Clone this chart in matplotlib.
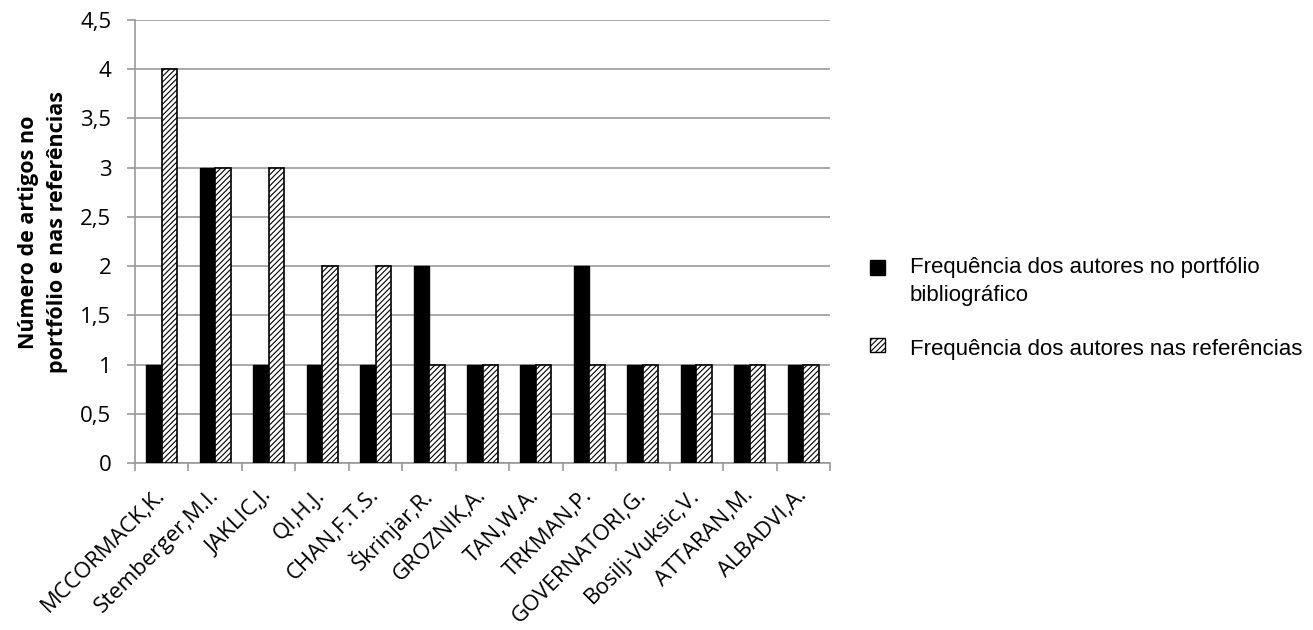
import numpy as np
import matplotlib.pyplot as plt
from matplotlib.patches import Rectangle

autores = ['MCCORMACK,K.', 'Stemberger,M.I.', 'JAKLIC,J.', 'QI,H.J.', 'CHAN,F.T.S.',
           'Škrinjar,R.', 'GROZNIK,A.', 'TAN,W.A.', 'TRKMAN,P.', 'GOVERNATORI,G.',
           'Bosilj-Vuksic,V.', 'ATTARAN,M.', 'ALBADVI,A.']
portfolio = [1, 3, 1, 1, 1, 2, 1, 1, 2, 1, 1, 1, 1]
referencias = [4, 3, 3, 2, 2, 1, 1, 1, 1, 1, 1, 1, 1]
yticks = [0, 0.5, 1, 1.5, 2, 2.5, 3, 3.5, 4, 4.5]

W, H = 1313, 630
plt.rcParams['hatch.linewidth'] = 0.8
fig = plt.figure(figsize=(W/100, H/100), dpi=100)
ax = fig.add_axes([135/W, 1 - 463/H, 695/W, 443/H])

x = np.arange(len(autores))
w = 0.29
ax.bar(x - w/2, portfolio, w, color='black', edgecolor='black', linewidth=1, zorder=3)
ax.bar(x + w/2, referencias, w, color='white', edgecolor='black', hatch='//////',
       linewidth=1.2, zorder=3)

ax.set_xlim(-0.5, len(autores) - 0.5)
ax.set_ylim(0, 4.5)
ax.set_yticks(yticks)
ax.set_yticklabels([f'{v:g}'.replace('.', ',') for v in yticks], fontsize=16,
                   family='Open Sans')
ax.yaxis.grid(True, color='#999999', linewidth=1.2, zorder=0)

# ticks nas divisões das categorias, rótulos no centro
ax.set_xticks(np.arange(len(autores) + 1) - 0.5)
ax.set_xticklabels([])
ax.set_xticks(x, minor=True)
ax.set_xticklabels(autores, minor=True, rotation=45, ha='right', va='center',
                   rotation_mode='anchor', fontsize=16, family='Open Sans')
ax.tick_params(axis='x', which='minor', length=0, pad=21)
ax.tick_params(axis='x', which='major', length=6, color='#999999', width=1.2)
ax.tick_params(axis='y', length=6, color='#999999', width=1.2, pad=11)

for s in ['top', 'right']:
    ax.spines[s].set_visible(False)
for s in ['left', 'bottom']:
    ax.spines[s].set_color('#999999')
    ax.spines[s].set_linewidth(1.2)

fig.text(43/W, 1 - 232/H, 'Número de artigos no\nportfólio e nas referências',
         rotation=90, ha='center', va='center', fontsize=15.5, fontweight='bold',
         family='Open Sans', linespacing=1.45)

# legenda
fig.add_artist(Rectangle((870/W, 1 - 275/H), 15/W, 15/H, transform=fig.transFigure,
                         facecolor='black', edgecolor='black'))
fig.add_artist(Rectangle((870/W, 1 - 352/H), 15/W, 14/H, transform=fig.transFigure,
                         facecolor='white', edgecolor='black', hatch='//////'))
leg_font = dict(family='Liberation Sans', fontsize=16, va='center')
fig.text(910/W, 1 - 268/H, 'Frequência dos autores no portfólio', **leg_font)
fig.text(910/W, 1 - 295/H, 'bibliográfico', **leg_font)
fig.text(910/W, 1 - 349/H, 'Frequência dos autores nas referências', **leg_font)

fig.savefig('out.png')
